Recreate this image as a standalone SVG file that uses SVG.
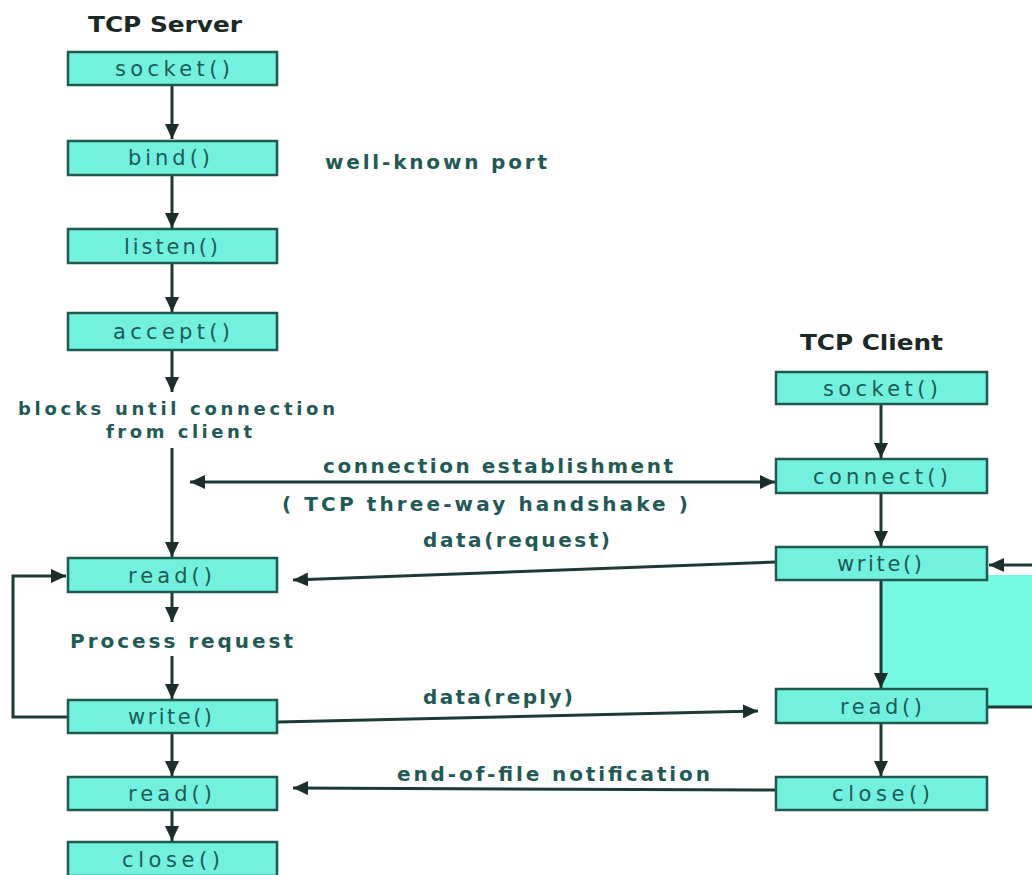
<svg xmlns="http://www.w3.org/2000/svg" width="1032" height="875" viewBox="0 0 1032 875">
<style>
.box{fill:#72f2de;stroke:#1f5a50;stroke-width:2.5}
.bt{font-family:"DejaVu Sans","Liberation Sans",sans-serif;font-size:21px;fill:#1f5a55}
.lb{font-family:"DejaVu Sans","Liberation Sans",sans-serif;font-size:20px;font-weight:bold;fill:#1f5a55}
.sm{font-size:18px}
.tt{font-family:"DejaVu Sans","Liberation Sans",sans-serif;font-size:21px;font-weight:bold;fill:#1a2826}
.ln{fill:none;stroke:#1c3b36;stroke-width:3}
</style>
<defs>
<marker id="ah" markerUnits="userSpaceOnUse" markerWidth="16" markerHeight="14" refX="15" refY="7" orient="auto-start-reverse">
<path d="M0,0 L15,7 L0,14 z" fill="#1c2e2b"/>
</marker>
</defs>
<rect x="0" y="0" width="1032" height="875" fill="#ffffff"/>
<rect id="loop-fill" x="881" y="575" width="151" height="132" fill="#76f8e4"/>

<text class="tt" x="88" y="32" textLength="154" lengthAdjust="spacingAndGlyphs">TCP Server</text>
<text class="tt" x="800" y="350" textLength="143" lengthAdjust="spacingAndGlyphs">TCP Client</text>

<g id="connectors">
<line class="ln" x1="172" y1="86" x2="172" y2="139" marker-end="url(#ah)"/>
<line class="ln" x1="172" y1="176" x2="172" y2="228" marker-end="url(#ah)"/>
<line class="ln" x1="172" y1="264" x2="172" y2="312" marker-end="url(#ah)"/>
<line class="ln" x1="172" y1="351" x2="172" y2="392" marker-end="url(#ah)"/>
<line class="ln" x1="172" y1="448" x2="172" y2="557" marker-end="url(#ah)"/>
<line class="ln" x1="172" y1="593" x2="172" y2="622" marker-end="url(#ah)"/>
<line class="ln" x1="172" y1="656" x2="172" y2="699" marker-end="url(#ah)"/>
<line class="ln" x1="172" y1="734" x2="172" y2="776" marker-end="url(#ah)"/>
<line class="ln" x1="172" y1="811" x2="172" y2="841" marker-end="url(#ah)"/>
<polyline class="ln" points="68,717 13,717 13,576 66,576" marker-end="url(#ah)"/>
<line class="ln" x1="881" y1="405" x2="881" y2="458" marker-end="url(#ah)"/>
<line class="ln" x1="881" y1="494" x2="881" y2="546" marker-end="url(#ah)"/>
<line class="ln" x1="881" y1="581" x2="881" y2="688" marker-end="url(#ah)"/>
<line class="ln" x1="881" y1="724" x2="881" y2="776" marker-end="url(#ah)"/>
<line class="ln" x1="190" y1="482" x2="775" y2="482" marker-start="url(#ah)" marker-end="url(#ah)"/>
<line class="ln" x1="776" y1="562" x2="293" y2="580" marker-end="url(#ah)"/>
<line class="ln" x1="278" y1="722" x2="758" y2="711" marker-end="url(#ah)"/>
<line class="ln" x1="776" y1="790" x2="293" y2="788" marker-end="url(#ah)"/>
<line class="ln" x1="1032" y1="565" x2="989" y2="565" marker-end="url(#ah)"/>
<line class="ln" x1="987" y1="707" x2="1032" y2="707"/>
</g>

<g id="s-socket"><rect class="box" x="68" y="52" width="209" height="33"/><text class="bt" x="115" y="76" textLength="115" lengthAdjust="spacing">socket()</text></g>
<g id="s-bind"><rect class="box" x="68" y="141" width="209" height="34"/><text class="bt" x="128" y="165" textLength="82" lengthAdjust="spacing">bind()</text></g>
<text class="lb" x="325" y="169" textLength="222" lengthAdjust="spacing">well-known port</text>
<g id="s-listen"><rect class="box" x="68" y="229" width="209" height="34"/><text class="bt" x="124" y="254" textLength="94" lengthAdjust="spacing">listen()</text></g>
<g id="s-accept"><rect class="box" x="68" y="313" width="209" height="37"/><text class="bt" x="113" y="339" textLength="117" lengthAdjust="spacing">accept()</text></g>
<g id="s-blocks"><text class="lb sm" x="18" y="415" textLength="317" lengthAdjust="spacing">blocks until connection</text><text class="lb sm" x="106" y="438" textLength="146" lengthAdjust="spacing">from client</text></g>
<g id="s-read"><rect class="box" x="68" y="558" width="209" height="34"/><text class="bt" x="128" y="583" textLength="84" lengthAdjust="spacing">read()</text></g>
<g id="s-process"><text class="lb" x="70" y="648" textLength="223" lengthAdjust="spacing">Process request</text></g>
<g id="s-write"><rect class="box" x="68" y="700" width="209" height="33"/><text class="bt" x="128" y="724" textLength="84" lengthAdjust="spacing">write()</text></g>
<g id="s-read2"><rect class="box" x="68" y="777" width="209" height="33"/><text class="bt" x="128" y="801" textLength="84" lengthAdjust="spacing">read()</text></g>
<g id="s-close"><rect class="box" x="68" y="842" width="209" height="34"/><text class="bt" x="122" y="867" textLength="98" lengthAdjust="spacing">close()</text></g>

<g id="c-socket"><rect class="box" x="776" y="372" width="211" height="32"/><text class="bt" x="823" y="396" textLength="115" lengthAdjust="spacing">socket()</text></g>
<g id="c-connect"><rect class="box" x="776" y="459" width="211" height="34"/><text class="bt" x="813" y="484" textLength="135" lengthAdjust="spacing">connect()</text></g>
<g id="c-write"><rect class="box" x="776" y="547" width="211" height="33"/><text class="bt" x="837" y="571" textLength="85" lengthAdjust="spacing">write()</text></g>
<g id="c-read"><rect class="box" x="776" y="689" width="211" height="34"/><text class="bt" x="840" y="714" textLength="82" lengthAdjust="spacing">read()</text></g>
<g id="c-close"><rect class="box" x="776" y="777" width="211" height="33"/><text class="bt" x="832" y="801" textLength="98" lengthAdjust="spacing">close()</text></g>

<g id="labels">
<text class="lb" x="323" y="473" textLength="350" lengthAdjust="spacing">connection establishment</text>
<text class="lb" x="282" y="511" textLength="406" lengthAdjust="spacing">( TCP three-way handshake )</text>
<text class="lb" x="423" y="547" textLength="187" lengthAdjust="spacing">data(request)</text>
<text class="lb" x="423" y="704" textLength="150" lengthAdjust="spacing">data(reply)</text>
<text class="lb" x="397" y="781" textLength="313" lengthAdjust="spacing">end-of-file notification</text>
</g>
</svg>
